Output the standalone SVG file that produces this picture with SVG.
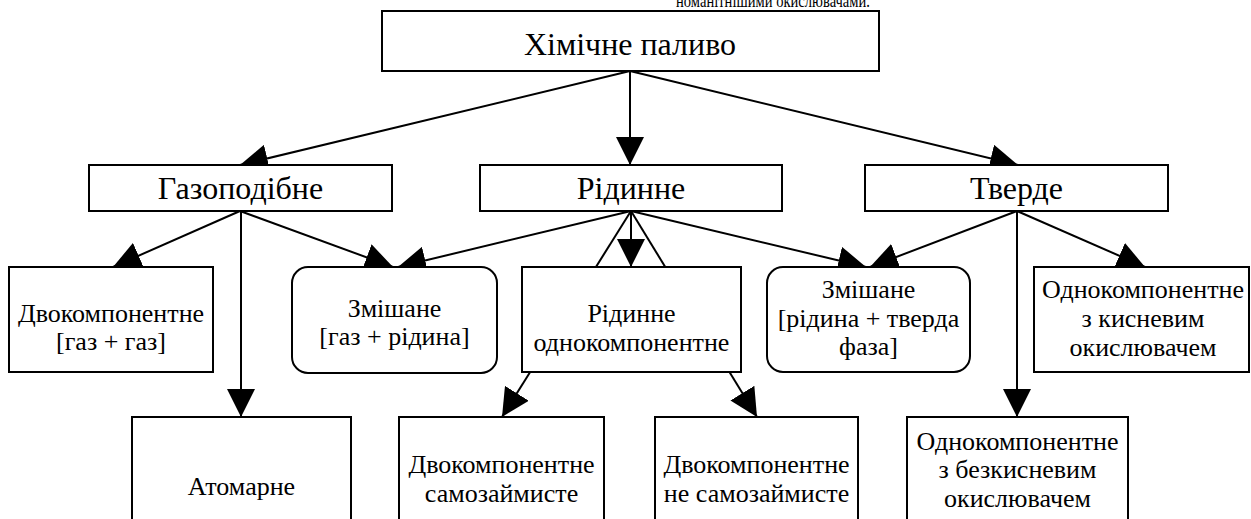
<svg xmlns="http://www.w3.org/2000/svg" width="1251" height="519" viewBox="0 0 1251 519">
<style>
.box{fill:#fff;stroke:#000;stroke-width:2}
text{font-family:'Liberation Serif','DejaVu Serif','Times New Roman',serif;fill:#000;text-anchor:middle}
.big{font-size:32px}
.sm{font-size:26px}
.c line{stroke:#000;stroke-width:2}
</style>
<defs>
<marker id="ah" markerUnits="userSpaceOnUse" markerWidth="28" markerHeight="28" refX="28" refY="14" orient="auto">
<path d="M0,0 L28,14 L0,28 Z" fill="#000"/>
</marker>
</defs>
<rect width="1251" height="519" fill="#fff"/>
<text x="676" y="7" font-size="19" style="text-anchor:start" textLength="194" lengthAdjust="spacingAndGlyphs">номанітнішими окислювачами.</text>
<g id="connectors" class="c">
<line x1="630" y1="71" x2="240" y2="165" marker-end="url(#ah)"/>
<line x1="630" y1="71" x2="630" y2="165" marker-end="url(#ah)"/>
<line x1="630" y1="71" x2="1018" y2="165" marker-end="url(#ah)"/>
<line x1="240" y1="211" x2="113" y2="267" marker-end="url(#ah)"/>
<line x1="241" y1="211" x2="241" y2="417" marker-end="url(#ah)"/>
<line x1="240" y1="211" x2="393" y2="267" marker-end="url(#ah)"/>
<line x1="631" y1="211" x2="398" y2="267" marker-end="url(#ah)"/>
<line x1="631" y1="211" x2="631" y2="267" marker-end="url(#ah)"/>
<line x1="631" y1="211" x2="502" y2="417" marker-end="url(#ah)"/>
<line x1="631" y1="211" x2="757" y2="417" marker-end="url(#ah)"/>
<line x1="631" y1="211" x2="866" y2="267" marker-end="url(#ah)"/>
<line x1="1017" y1="211" x2="870" y2="267" marker-end="url(#ah)"/>
<line x1="1017" y1="211" x2="1017" y2="417" marker-end="url(#ah)"/>
<line x1="1017" y1="211" x2="1145" y2="267" marker-end="url(#ah)"/>
</g>
<g id="n-root"><rect class="box" x="382" y="11" width="497" height="60"/><text class="big" x="630" y="55">Хімічне паливо</text></g>
<g id="n-gas"><rect class="box" x="89" y="165" width="303" height="46"/><text class="big" x="240.5" y="199">Газоподібне</text></g>
<g id="n-liq"><rect class="box" x="480" y="165" width="302" height="46"/><text class="big" x="631" y="199">Рідинне</text></g>
<g id="n-sol"><rect class="box" x="865" y="165" width="303" height="46"/><text class="big" x="1016.5" y="199">Тверде</text></g>
<g id="n-gg"><rect class="box" x="9" y="267" width="204" height="105"/><text class="sm" x="111" y="322">Двокомпонентне</text><text class="sm" x="111" y="350">[газ + газ]</text></g>
<g id="n-mix1"><rect class="box" x="292" y="267" width="205" height="106" rx="16"/><text class="sm" x="394.5" y="317">Змішане</text><text class="sm" x="394.5" y="345">[газ + рідина]</text></g>
<g id="n-liq1"><rect class="box" x="522" y="267" width="219" height="105"/><text class="sm" x="631.5" y="322">Рідинне</text><text class="sm" x="631.5" y="351">однокомпонентне</text></g>
<g id="n-mix2"><rect class="box" x="767" y="267" width="203" height="105" rx="16"/><text class="sm" x="868.5" y="298">Змішане</text><text class="sm" x="868.5" y="327">[рідина + тверда</text><text class="sm" x="868.5" y="355">фаза]</text></g>
<g id="n-ox"><rect class="box" x="1034" y="267" width="215" height="105"/><text class="sm" x="1143" y="298">Однокомпонентне</text><text class="sm" x="1143" y="327">з кисневим</text><text class="sm" x="1143" y="356">окислювачем</text></g>
<g id="n-atom"><rect class="box" x="132" y="417" width="219" height="112"/><text class="sm" x="241.5" y="495">Атомарне</text></g>
<g id="n-self"><rect class="box" x="399" y="417" width="205" height="112"/><text class="sm" x="501.5" y="473">Двокомпонентне</text><text class="sm" x="501.5" y="502">самозаймисте</text></g>
<g id="n-noself"><rect class="box" x="655" y="417" width="203" height="112"/><text class="sm" x="756.5" y="473">Двокомпонентне</text><text class="sm" x="756.5" y="502">не самозаймисте</text></g>
<g id="n-nox"><rect class="box" x="907" y="417" width="221" height="112"/><text class="sm" x="1017.5" y="450">Однокомпонентне</text><text class="sm" x="1017.5" y="478">з безкисневим</text><text class="sm" x="1017.5" y="507">окислювачем</text></g>
</svg>
